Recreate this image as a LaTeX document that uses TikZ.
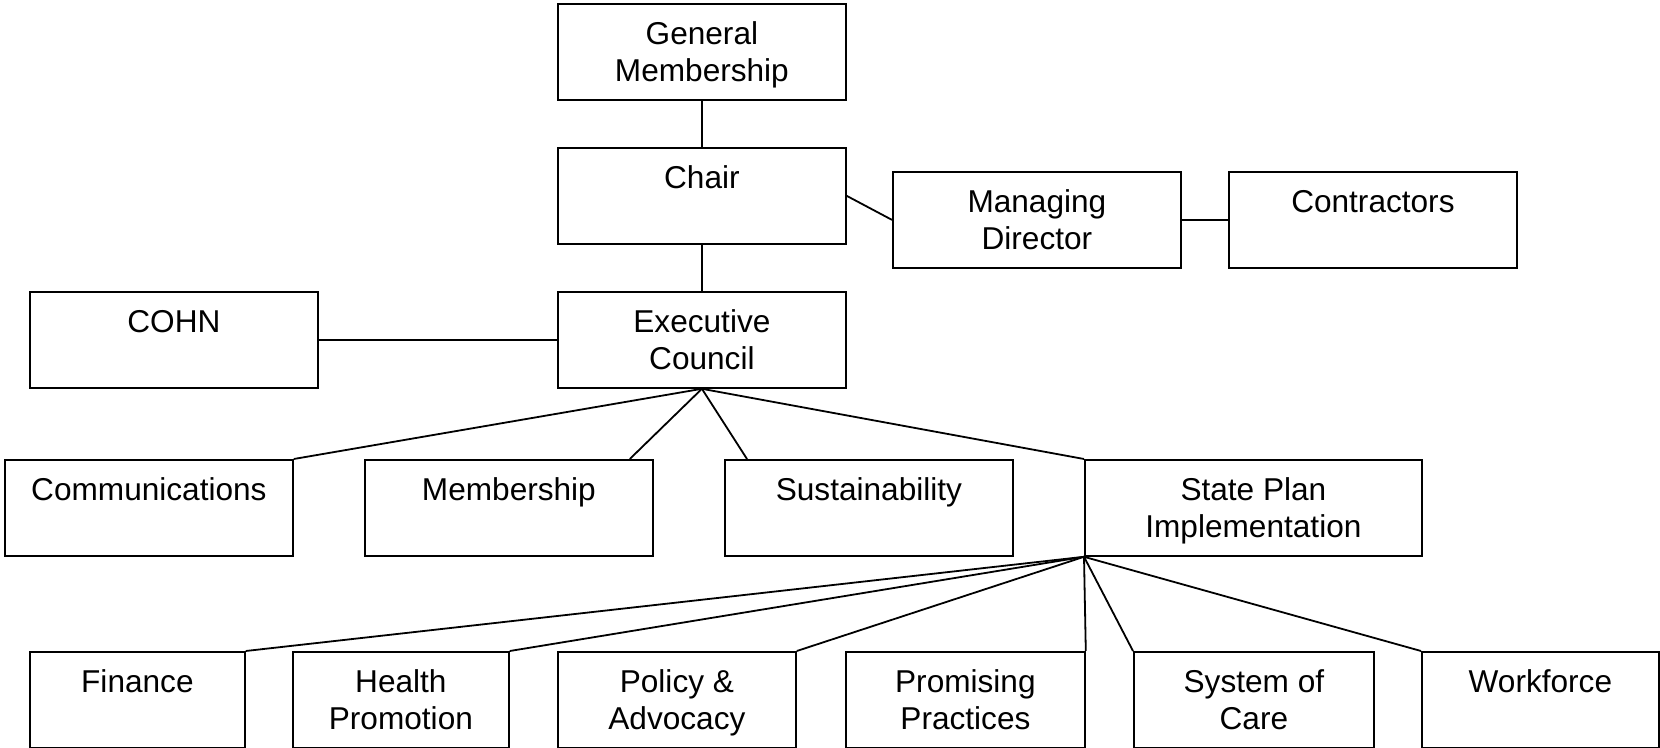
\documentclass[tikz,border=0pt]{standalone}
\usepackage{fontspec}
\setmainfont{Liberation Sans}
\usetikzlibrary{calc}
\newcommand{\bxt}[2]{\parbox[c][48pt][t]{#1}{\centering\rule{0pt}{20.1pt}#2}}
\tikzset{
  orgbox/.style={draw, line width=0.9pt, inner sep=0pt, rectangle, anchor=north west,
    font=\fontsize{15.8pt}{18.5pt}\selectfont},
  link/.style={line width=0.9pt}
}
\begin{document}
\begin{tikzpicture}[x=0.5pt,y=-0.5pt]
\useasboundingbox (0,0) rectangle (1660,748);
% row 0/1
\node[orgbox] (gm) at (557,3) {\bxt{144pt}{General\\Membership}};
\node[orgbox] (chair) at (557,147) {\bxt{144pt}{Chair}};
\node[orgbox] (md) at (892,171) {\bxt{144pt}{Managing\\Director}};
\node[orgbox] (contr) at (1228,171) {\bxt{144pt}{Contractors}};
% row 2
\node[orgbox] (cohn) at (29,291) {\bxt{144pt}{COHN}};
\node[orgbox] (ec) at (557,291) {\bxt{144pt}{Executive\\Council}};
% row 3
\node[orgbox] (comm) at (4,459) {\bxt{144pt}{Communications}};
\node[orgbox] (memb) at (364,459) {\bxt{144pt}{Membership}};
\node[orgbox] (sust) at (724,459) {\bxt{144pt}{Sustainability}};
\node[orgbox] (spi) at (1084,459) {\bxt{168.5pt}{State Plan\\Implementation}};
% row 4
\node[orgbox] (fin) at (29,651) {\bxt{107.5pt}{Finance}};
\node[orgbox] (hp) at (292,651) {\bxt{108pt}{Health\\Promotion}};
\node[orgbox] (pol) at (557,651) {\bxt{119pt}{Policy \&\\Advocacy}};
\node[orgbox] (prom) at (845,651) {\bxt{119.5pt}{Promising\\Practices}};
\node[orgbox] (soc) at (1133,651) {\bxt{120pt}{System of\\Care}};
\node[orgbox] (work) at (1421,651) {\bxt{118.5pt}{Workforce}};
% connectors
\draw[link] (gm.south) -- (chair.north);
\draw[link] (chair.east) -- (md.west);
\draw[link] (md.east) -- (contr.west);
\draw[link] (chair.south) -- (ec.north);
\draw[link] (cohn.east) -- (ec.west);
\draw[link] (ec.south) -- (comm.north east);
\draw[link] (ec.south) -- ($(memb.north east)+(-24,0)$);
\draw[link] (ec.south) -- ($(sust.north west)+(23,0)$);
\draw[link] (ec.south) -- (spi.north west);
\draw[link] (spi.south west) -- (fin.north east);
\draw[link] (spi.south west) -- (hp.north east);
\draw[link] (spi.south west) -- (pol.north east);
\draw[link] (spi.south west) -- (prom.north east);
\draw[link] (spi.south west) -- (soc.north west);
\draw[link] (spi.south west) -- (work.north west);
\end{tikzpicture}
\end{document}
